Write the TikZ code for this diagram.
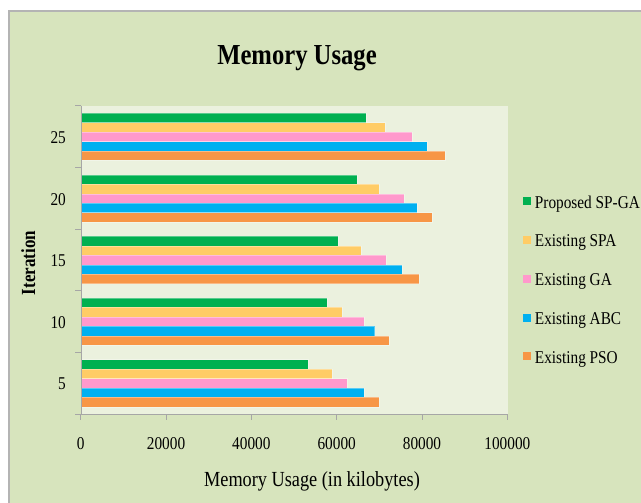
\documentclass[tikz,border=0pt]{standalone}
\usepackage{fontspec}
\setmainfont{Liberation Serif}
\newfontfamily\chartfont[FakeStretch=0.85]{Liberation Serif}
\definecolor{chartbg}{HTML}{D7E4BD}
\definecolor{plotbg}{HTML}{EBF1DE}
\definecolor{axisgray}{HTML}{A6A6A6}
\definecolor{framegray}{HTML}{B4B4B4}
\definecolor{spga}{HTML}{00B050}
\definecolor{spa}{HTML}{FFCC66}
\definecolor{ga}{HTML}{FF99CC}
\definecolor{abc}{HTML}{00B0F0}
\definecolor{pso}{HTML}{F79646}

\begin{document}
\begin{tikzpicture}[x=1pt,y=-1pt,
    axis/.style={draw=axisgray,line width=1pt},
    ticklabel/.style={font=\chartfont\fontsize{18}{18}\selectfont,inner sep=0pt},
    legendlabel/.style={font=\chartfont\fontsize{18}{18}\selectfont,
                        anchor=base west,inner sep=0pt},
    swatch/.style={minimum size=8pt,inner sep=0pt},
    bar/.style={draw=white,draw opacity=0.35,line width=0.4pt}
  ]
    \useasboundingbox (0,0) rectangle (641,503);
    \fill[white] (0,0) rectangle (641,503);
    \draw[fill=chartbg,draw=framegray,line width=1.2pt] (9,11) rectangle (646,508);
    \fill[plotbg] (81,106) rectangle (507.5,414);

    % bars in thousands of kB, one group per iteration (top group = 25)
    \foreach \g/\a/\b/\c/\d/\e in {0/66.9/71.4/77.6/81.2/85.4,
                                   1/64.7/69.9/75.8/78.9/82.3,
                                   2/60.3/65.8/71.6/75.4/79.4,
                                   3/57.8/61.2/66.4/68.9/72.3,
                                   4/53.3/58.9/62.4/66.4/70.0}{
      \pgfmathsetmacro\top{106+61.6*\g+7.2}
      \foreach \v/\col [count=\k from 0] in {\a/spga,\b/spa,\c/ga,\d/abc,\e/pso}
        \fill[\col,bar] (81,{\top+9.45*\k}) rectangle ({80.7+\v*4.2667},{\top+9.45*\k+9.45});
    }

    % axes
    \draw[axis] (81,106) -- (81,414) -- (507.5,414);
    \foreach \j in {0,...,5}{
      \draw[axis] (75,{106+61.6*\j}) -- (81,{106+61.6*\j});
      \draw[axis] ({80.7+85.33*\j},414) -- ({80.7+85.33*\j},420);
    }
    \foreach \lab [count=\j from 0] in {25,20,15,10,5}
      \node[ticklabel,anchor=base east] (ytick\lab) at (66,{136.8+61.6*\j+6.6}) {\lab};
    \foreach \lab [count=\j from 0] in {0,20000,40000,60000,80000,100000}
      \node[ticklabel,anchor=base] (xtick\j) at ({80.7+85.33*\j},449.3) {\lab};

    % titles
    \node[font=\chartfont\bfseries\fontsize{29}{29}\selectfont,anchor=base,inner sep=0pt]
      (title) at (297,65) {Memory Usage};
    \node[font=\chartfont\fontsize{21.5}{21.5}\selectfont,anchor=base,inner sep=0pt]
      (xtitle) at (312,486) {Memory Usage (in kilobytes)};
    \node[font=\chartfont\bfseries\fontsize{20}{20}\selectfont,anchor=base,rotate=90,inner sep=0pt]
      (ytitle) at (35,263) {Iteration};

    % legend
    \foreach \name/\col [count=\r from 0] in {Proposed SP-GA/spga,Existing SPA/spa,
        Existing GA/ga,Existing ABC/abc,Existing PSO/pso}{
      \node[swatch,fill=\col] (sw\r) at (526.7,{201.3+38.75*\r}) {};
      \node[legendlabel] (lg\r) at (534.7,{208+38.75*\r}) {\name};
    }
\end{tikzpicture}
\end{document}
